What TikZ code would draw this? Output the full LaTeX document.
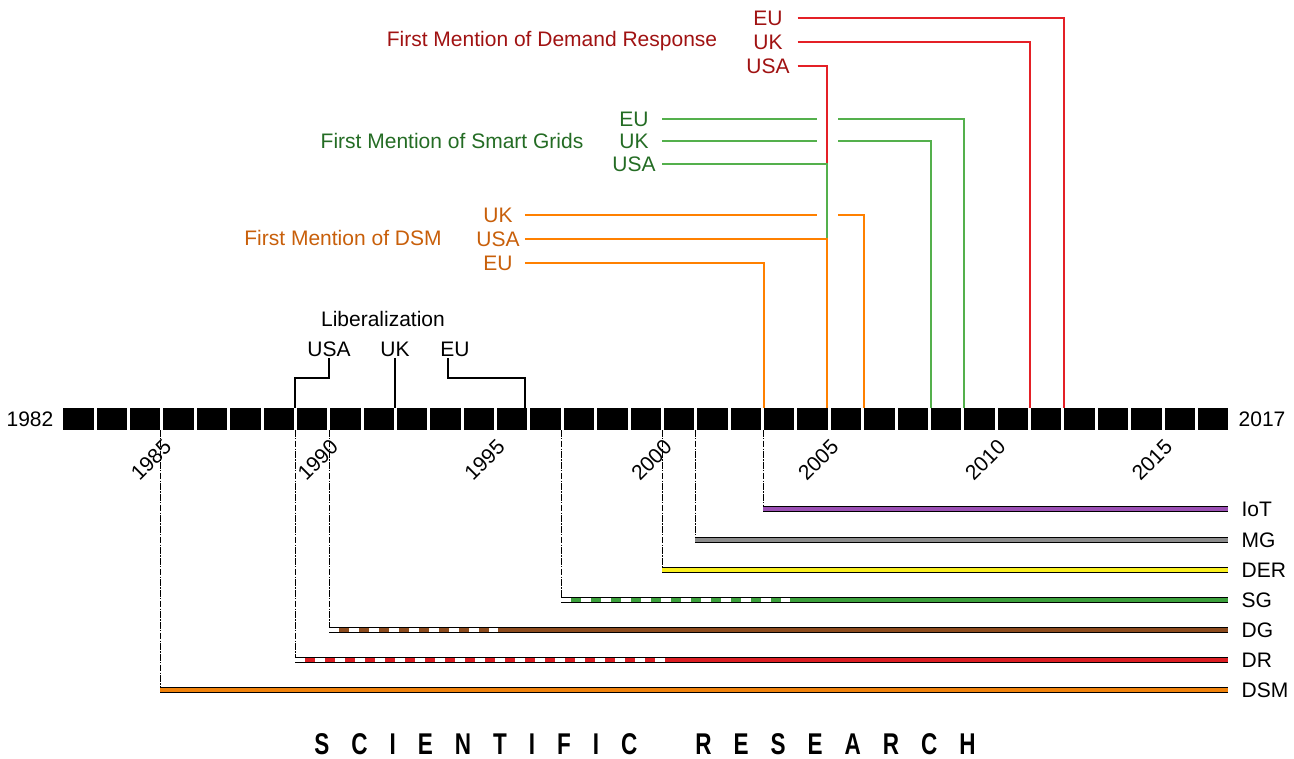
\documentclass[tikz,border=0pt]{standalone}
\usepackage{fontspec}
\setmainfont{Liberation Sans}
\newfontfamily\bannerfont{Liberation Sans}[FakeStretch=0.75]
\newcommand{\lsp}{\hspace{16.5pt}}

\definecolor{drred}{RGB}{228,32,38}
\definecolor{drtxt}{RGB}{160,18,18}
\definecolor{sggreen}{RGB}{84,176,76}
\definecolor{sgtxt}{RGB}{36,108,36}
\definecolor{dsmorange}{RGB}{255,128,0}
\definecolor{dsmtxt}{RGB}{200,95,10}
\definecolor{iotc}{RGB}{155,80,180}
\definecolor{mgc}{RGB}{140,140,140}
\definecolor{derc}{RGB}{250,240,30}
\definecolor{sgc}{RGB}{60,160,60}
\definecolor{dgc}{RGB}{140,75,30}
\definecolor{drc}{RGB}{220,30,35}
\definecolor{dsmc}{RGB}{240,130,10}

\tikzset{
  lbl/.style={font=\fontsize{15.75}{18}\selectfont, inner sep=1pt},
  tag/.style={lbl, minimum width=34pt, inner sep=0pt},
  mention/.style={line width=1.6pt},
  research/.style={line width=1pt, double=#1, double distance=2.3pt},
  drop/.style={line width=0.6pt, dash pattern=on 5pt off 1pt on 1pt off 1pt},
  bracket/.style={line width=1.5pt},
}

\begin{document}
\begin{tikzpicture}[x=0.75pt,y=-0.75pt]
\useasboundingbox (0,0) rectangle (1294,758);

      % timeline
      \foreach \k in {0,...,34}
      { \fill (63.3+\k*33.37,408) rectangle +(30.37,22); }
      \node[lbl] (t0) at (30,419) {1982};
      \node[lbl] (t1) at (1262,419) {2017};

      % years
      \foreach \k/\yr in {3/1985,8/1990,13/1995,18/2000,23/2005,28/2010,33/2015}
      { \node[lbl, rotate=45] (y\yr) at (50.8+\k*33.37,460) {\yr}; }

      % points on the bar
      \foreach \yr/\xx in {1989/295,1992/395,1996/525,2003/764,2005/827,2006/864,2008/931,2009/964,2011/1030,2012/1064}
      { \path (\xx,408) coordinate (t\yr); }

      % liberalization
      \node[lbl] (lib) at (383,319) {Liberalization};
      \node[lbl] (libUSA) at (329,349) {USA};
      \node[lbl] (libUK) at (395,349) {UK};
      \node[lbl] (libEU) at (455,349) {EU};
      \draw[bracket] (libUSA.south) |- ([yshift=22.5pt]t1989) -- (t1989);
      \draw[bracket] (libUK.south) -- (t1992);
      \draw[bracket] ([xshift=-5pt]libEU.south) |- ([yshift=22.5pt]t1996) -- (t1996);

      % demand response
      \node[lbl, text=drtxt] (drT) at (552,41) {First Mention of Demand Response};
      \node[tag, text=drtxt] (drEU) at (768,18) {EU};
      \node[tag, text=drtxt] (drUK) at (768,42) {UK};
      \node[tag, text=drtxt] (drUSA) at (768,66) {USA};
      \draw[mention, drred, shorten <=5pt] (drEU.east) -| (t2012);
      \draw[mention, drred, shorten <=5pt] (drUK.east) -| (t2011);

      % smart grids
      \node[lbl, text=sgtxt] (sgT) at (452,141) {First Mention of Smart Grids};
      \node[tag, text=sgtxt] (sgEU) at (634,119) {EU};
      \node[tag, text=sgtxt] (sgUK) at (634,141) {UK};
      \node[tag, text=sgtxt] (sgUSA) at (634,164) {USA};
      \draw[mention, sggreen, shorten <=4pt] (sgEU.east) -| (t2009);
      \draw[mention, sggreen, shorten <=4pt] (sgUK.east) -| (t2008);

      % dsm
      \node[lbl, text=dsmtxt] (dsmT) at (343,238) {First Mention of DSM};
      \node[tag, text=dsmtxt] (dsmUK) at (498,215) {UK};
      \node[tag, text=dsmtxt] (dsmUSA) at (498,239) {USA};
      \node[tag, text=dsmtxt] (dsmEU) at (498,263) {EU};
      \draw[mention, dsmorange, shorten <=3pt] (dsmUK.east) -| (t2006);
      \draw[mention, dsmorange, shorten <=3pt] (dsmEU.east) -| (t2003);

      % 2005 line, cut through the others
      \fill[white] (817,90) rectangle (838,233);
      \path (827,165) coordinate (j1); \path (827,240) coordinate (j2);
      \draw[mention, drred, shorten <=5pt] (drUSA.east) -| (j1);
      \draw[mention, sggreen, shorten <=4pt] (sgUSA.east) -| (j2);
      \draw[mention, dsmorange, shorten <=3pt] (dsmUSA.east) -| (t2005);

      % research lines
      \foreach \xx/\yy/\c/\lab in {763/509/iotc/IoT,695/540/mgc/MG,662/570/derc/DER,561/600/sgc/SG,329/630/dgc/DG,295/660/drc/DR}
      { \path (\xx,430) coordinate (b\lab); \path (\xx,\yy) coordinate (s\lab); \path (1228,\yy) coordinate (e\lab);
        \draw[drop] (b\lab) -- (s\lab);
        \draw[research=\c] (s\lab) -- (e\lab);
        \node[lbl, anchor=west] (n\lab) at (1240,\yy) {\lab}; }
      \path (160,430) coordinate (bDSM); \path (160,690) coordinate (sDSM); \path (1228,690) coordinate (eDSM);
      \draw[drop] (bDSM) -- (sDSM);
      \draw[research=dsmc, double distance=3pt] (sDSM) -- (eDSM);
      \node[lbl, anchor=west] (nDSM) at (1240,690) {DSM};

      % white dashes where research was sparse
      \path (790,600) coordinate (dSG); \path (498,630) coordinate (dDG); \path (667,660) coordinate (dDR);
      \foreach \lab in {SG,DG,DR}
      { \draw[white, line width=2.3pt, dash pattern=on 7.5pt off 7.5pt] (s\lab) -- (d\lab); }

      \node[font=\bannerfont\bfseries\fontsize{22.5}{26}\selectfont, inner sep=0pt] (banner) at (645,744)
        {S\lsp C\lsp I\lsp E\lsp N\lsp T\lsp I\lsp F\lsp I\lsp C\hspace{43.5pt}R\lsp E\lsp S\lsp E\lsp A\lsp R\lsp C\lsp H};
\end{tikzpicture}
\end{document}
